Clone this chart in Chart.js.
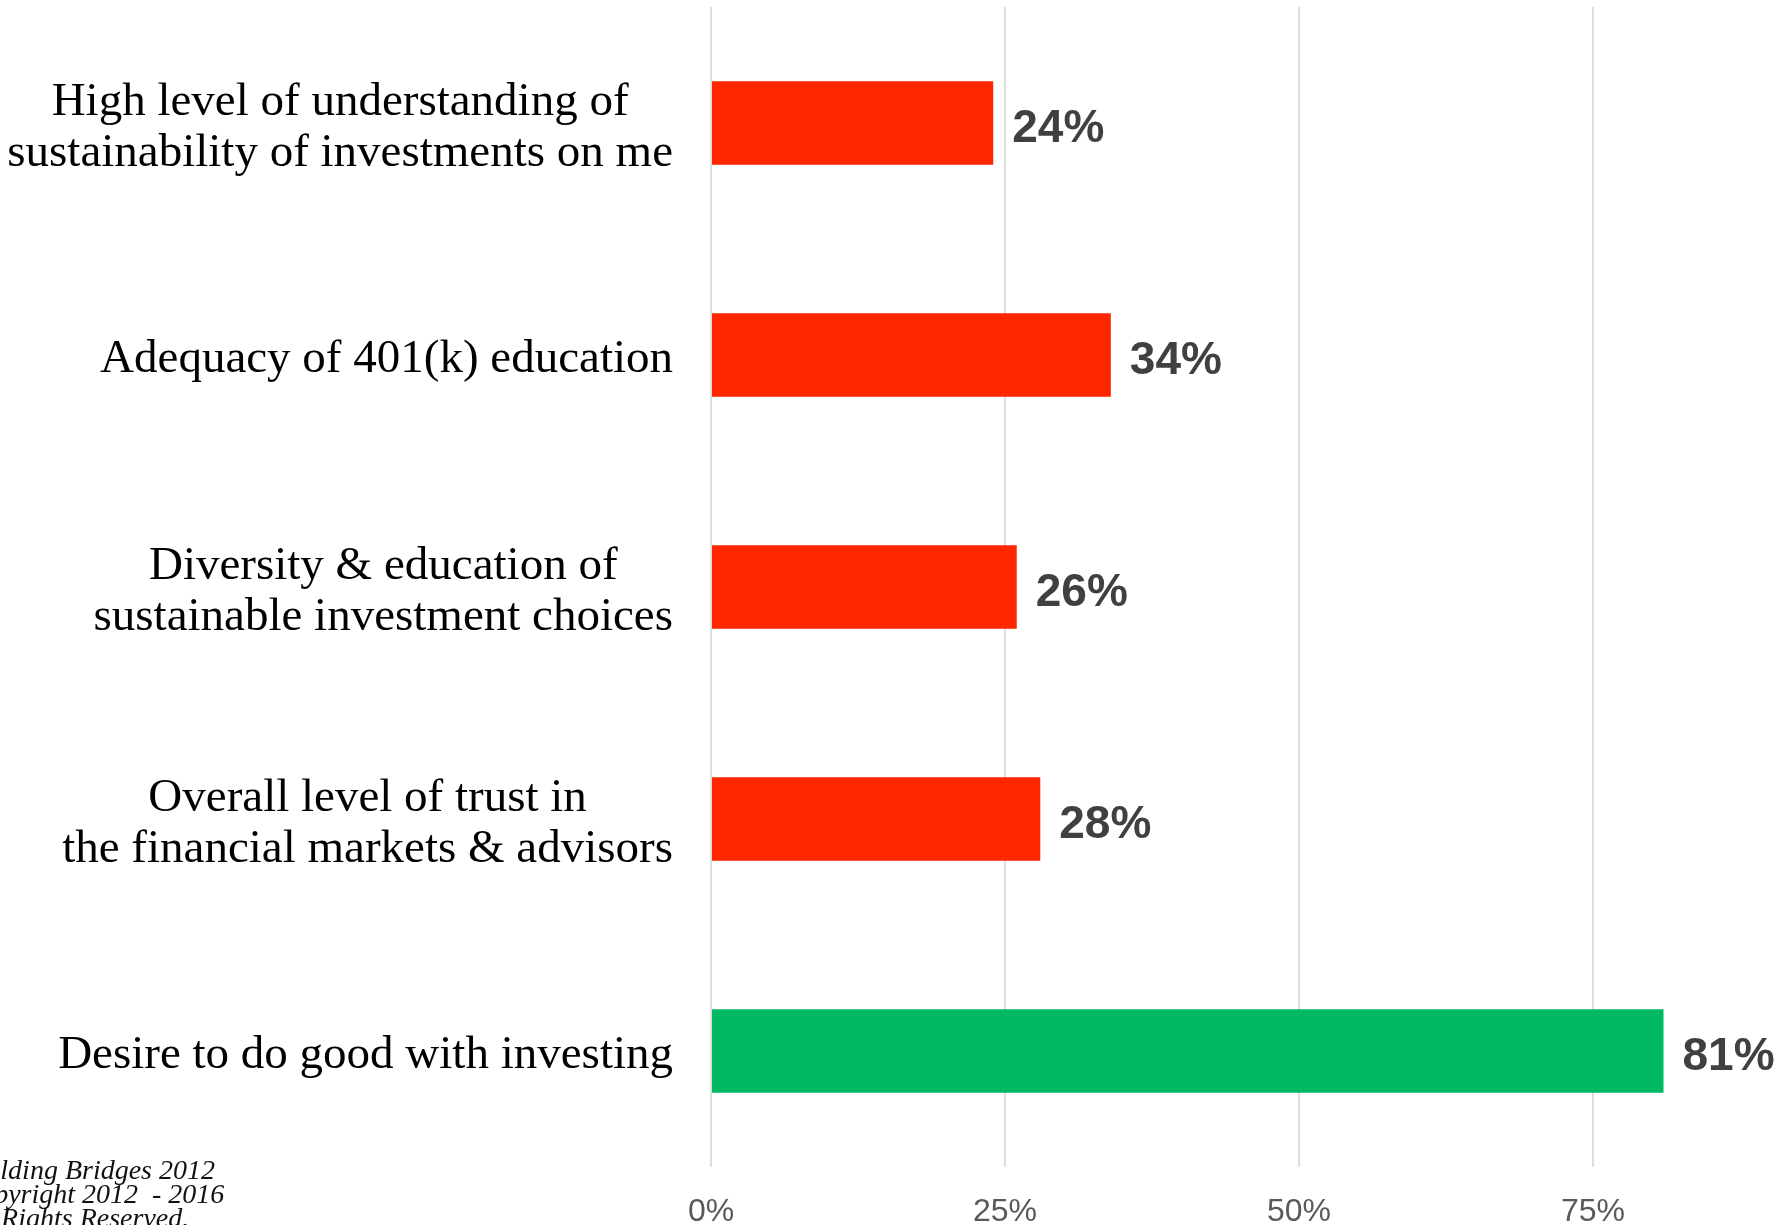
<!DOCTYPE html>
<html>
<head>
<meta charset="utf-8">
<title>Investor survey</title>
<script src="https://cdn.jsdelivr.net/npm/chart.js@4.4.1/dist/chart.umd.min.js"></script>
<style>
  html, body { margin: 0; padding: 0; background: #fff; overflow: hidden; }
  #wrap { width: 1777px; height: 1225px; position: relative; }
</style>
</head>
<body>
<div id="wrap"><canvas id="chart"></canvas></div>
<script>
// ---------- Data ----------
var categories = [
  ['High level of understanding of', 'sustainability of investments on me'],
  ['Adequacy of 401(k) education'],
  ['Diversity & education of', 'sustainable investment choices'],
  ['Overall level of trust in', 'the financial markets & advisors'],
  ['Desire to do good with investing']
];
var values = [24, 34, 26, 28, 81];
var barColors = ['#ff2600', '#ff2600', '#ff2600', '#ff2600', '#00b962'];
var xTickValues = [0, 25, 50, 75];
var footerLines = ['Building Bridges 2012', 'Copyright 2012  - 2016', 'All Rights Reserved.'];

// ---------- Plugins ----------
// Category labels: each block right-aligned to the axis, lines centred within the block
var categoryLabels = {
  id: 'categoryLabels',
  afterDraw: function (chart) {
    var ctx = chart.ctx, y = chart.scales.y;
    ctx.save();
    ctx.font = "47px 'Liberation Serif', serif";
    ctx.fillStyle = '#000';
    ctx.textAlign = 'center';
    ctx.textBaseline = 'middle';
    categories.forEach(function (lines, i) {
      var w = Math.max.apply(null, lines.map(function (s) { return ctx.measureText(s).width; }));
      var cx = y.right - 38 - w / 2;
      var cy = y.getPixelForValue(i) + 5;
      lines.forEach(function (s, j) {
        ctx.fillText(s, cx, cy + (j - (lines.length - 1) / 2) * 51);
      });
    });
    ctx.restore();
  }
};

// Percent value at the end of each bar
var valueLabels = {
  id: 'valueLabels',
  afterDatasetsDraw: function (chart) {
    var ctx = chart.ctx, meta = chart.getDatasetMeta(0);
    ctx.save();
    ctx.font = "bold 46px 'Liberation Sans', Arial, sans-serif";
    ctx.fillStyle = '#404040';
    ctx.textAlign = 'left';
    ctx.textBaseline = 'middle';
    meta.data.forEach(function (bar, i) {
      ctx.fillText(values[i] + '%', bar.x + 19, bar.y + 6);
    });
    ctx.restore();
  }
};

// Copyright note in the lower-left corner
var footerNote = {
  id: 'footerNote',
  afterDraw: function (chart) {
    var ctx = chart.ctx;
    ctx.save();
    ctx.font = "italic 28px 'Liberation Serif', serif";
    ctx.fillStyle = '#111';
    ctx.textAlign = 'left';
    ctx.textBaseline = 'alphabetic';
    var x = 215 - ctx.measureText(footerLines[0]).width;
    footerLines.forEach(function (s, i) {
      ctx.fillText(s, x, 1179 + i * 24);
    });
    ctx.restore();
  }
};

// ---------- Chart ----------
var chart = new Chart(document.getElementById('chart'), {
  type: 'bar',
  data: {
    labels: categories.map(function (c) { return c.join(' '); }),
    datasets: [{
      data: values,
      backgroundColor: barColors,
      borderWidth: 0,
      barPercentage: 0.36,
      categoryPercentage: 1
    }]
  },
  options: {
    indexAxis: 'y',
    responsive: true,
    maintainAspectRatio: false,
    animation: false,
    layout: { padding: { top: 7, right: 0, bottom: 0, left: 0 } },
    plugins: {
      legend: { display: false },
      tooltip: { enabled: false }
    },
    scales: {
      x: {
        min: 0,
        max: 90.65,
        afterBuildTicks: function (scale) {
          scale.ticks = xTickValues.map(function (v) { return { value: v }; });
        },
        afterFit: function (scale) { scale.height = 58; },
        grid: { color: '#dedede', lineWidth: 2, drawTicks: false },
        border: { display: false },
        ticks: {
          padding: 26,
          color: '#595959',
          font: { family: "'Liberation Sans', Arial, sans-serif", size: 32 },
          callback: function (v) { return v + '%'; }
        }
      },
      y: {
        grid: { display: false },
        border: { display: false },
        ticks: { display: false },
        afterFit: function (scale) { scale.width = 711; }
      }
    }
  },
  plugins: [categoryLabels, valueLabels, footerNote]
});
</script>
</body>
</html>
